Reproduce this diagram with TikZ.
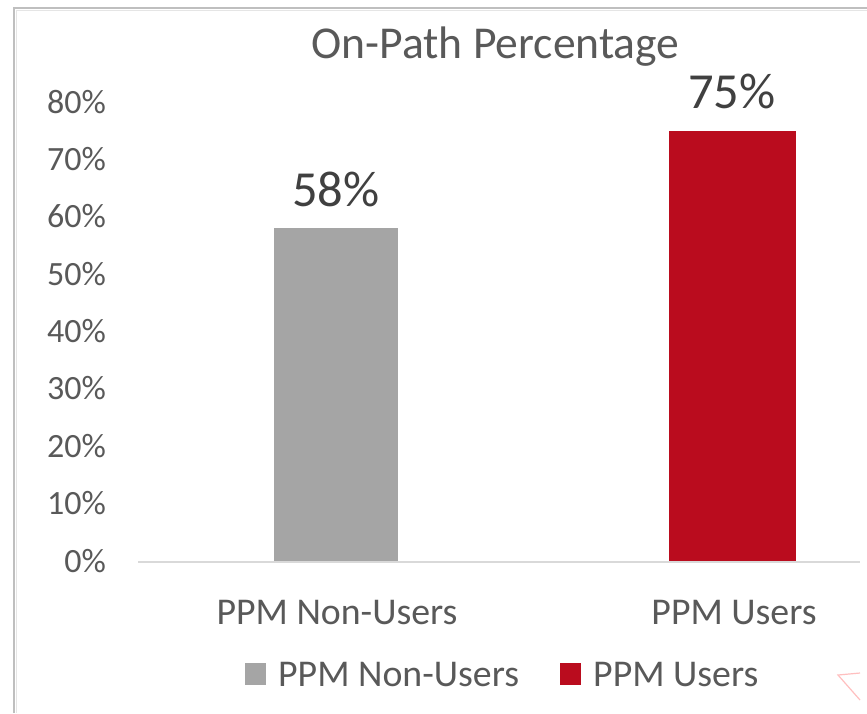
\documentclass[tikz,border=0pt]{standalone}
\usepackage{fontspec}
\setmainfont{Carlito}
\usetikzlibrary{positioning}
\definecolor{txtgray}{HTML}{595959}
\definecolor{lblgray}{HTML}{404040}
\definecolor{bargray}{HTML}{A5A5A5}
\definecolor{barred}{HTML}{BA0C1E}
\definecolor{axisgray}{HTML}{D9D9D9}
\definecolor{framegray}{HTML}{BFBFBF}
\tikzset{
  ticklabel/.style={anchor=base east,inner sep=0pt,text=txtgray,font=\fontsize{34}{40}\selectfont},
  catlabel/.style={anchor=base,inner sep=0pt,text=txtgray,font=\fontsize{37.8}{42}\selectfont},
  vallabel/.style={anchor=base,inner sep=0pt,text=lblgray,font=\fontsize{50.5}{54}\selectfont},
  barbox/.style={anchor=south,inner sep=0pt,draw=none}
}
\begin{document}
\begin{tikzpicture}[x=1pt,y=-1pt]
  \useasboundingbox (0,0) rectangle (867,713);
  \fill[white] (0,0) rectangle (867,713);
  % frame of the chart
  \draw[framegray,line width=1.5] (14,713) -- (14,8) -- (867,8);
  \draw[framegray!40,line width=1] (16,713) -- (16,10) -- (867,10);
  % title
  \node (title) [anchor=base,inner sep=0pt,text=txtgray,font=\fontsize{45.6}{50}\selectfont] at (495.5,58) {On-Path Percentage};
  % value axis
  \node (t80) [ticklabel] at (106,113) {80\%};
  \node (t70) [ticklabel] at (106,170.4) {70\%};
  \node (t60) [ticklabel] at (106,227.8) {60\%};
  \node (t50) [ticklabel] at (106,285.1) {50\%};
  \node (t40) [ticklabel] at (106,342.5) {40\%};
  \node (t30) [ticklabel] at (106,399.9) {30\%};
  \node (t20) [ticklabel] at (106,457.3) {20\%};
  \node (t10) [ticklabel] at (106,514.6) {10\%};
  \node (t0) [ticklabel] at (106,572) {0\%};
  % bars
  \node (nonusers) [barbox,fill=bargray,minimum width=124,minimum height=334] at (336,562) {};
  \node (users) [barbox,fill=barred,minimum width=127,minimum height=431] at (732.5,562) {};
  \coordinate (axisL) at (138,562);
  \coordinate (axisR) at (860,562);
  \draw[axisgray,line width=1.5] (axisL) -- (axisR);
  % data labels
  \node (v58) [vallabel] at (336,206) {58\%};
  \node (v75) [vallabel] at (732,108) {75\%};
  % categories
  \node (c1) [catlabel] at (337,624) {PPM Non-Users};
  \node (c2) [catlabel] at (734,624) {PPM Users};
  % legend
  \node (k1) [inner sep=0pt,fill=bargray,minimum size=21.5] at (255.5,674) {};
  \node (l1) [catlabel,anchor=base west] at (278,686) {PPM Non-Users};
  \node (k2) [inner sep=0pt,fill=barred,minimum size=21.5] at (570.5,674) {};
  \node (l2) [catlabel,anchor=base west] at (593,686) {PPM Users};
  % stray mark
  \draw[red!25,line width=1.2] (860,673) -- (838,675) -- (860,700);
\end{tikzpicture}
\end{document}
